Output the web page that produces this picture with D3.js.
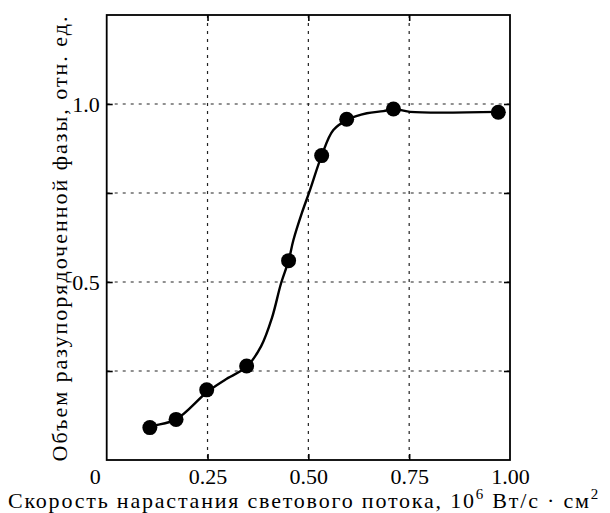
<!DOCTYPE html>
<html>
<head>
<meta charset="utf-8">
<script src="https://cdn.jsdelivr.net/npm/d3@7"></script>
<style>
  body { margin: 0; background: #fff; }
  text { font-family: "Liberation Serif", "Times New Roman", serif; fill: #000; }
</style>
</head>
<body>
<svg id="chart" width="610" height="513"></svg>
<script>
// Measured points: light-flux rise rate vs. volume of the disordered phase
const measuredRate = [0.107, 0.172, 0.248, 0.347, 0.451, 0.533, 0.595, 0.711, 0.971];
const disorderedVolume = [0.091, 0.114, 0.197, 0.264, 0.560, 0.855, 0.957, 0.986, 0.977];

// Hand-drawn fitting curve, sampled along its length
const fitRate = [0.095, 0.107, 0.172, 0.249, 0.293, 0.347, 0.383, 0.410, 0.432, 0.451, 0.463, 0.484, 0.504, 0.533, 0.562, 0.599, 0.645, 0.686, 0.713, 0.752, 0.973];
const fitVolume = [0.080, 0.092, 0.114, 0.191, 0.225, 0.262, 0.320, 0.400, 0.495, 0.560, 0.618, 0.694, 0.758, 0.855, 0.927, 0.957, 0.974, 0.980, 0.986, 0.978, 0.978];

// Grid and tick definitions
const xGridValues = [0.25, 0.5, 0.75];
const yGridValues = [0.25, 0.5, 0.75, 1.0];
const xTickValues = [0, 0.25, 0.5, 0.75, 1.0];
const xTickLabels = ["0", "0.25", "0.50", "0.75", "1.00"];
const yTickValues = [0.5, 1.0];
const yTickLabels = ["0.5", "1.0"];

const xTitle = "Скорость нарастания светового потока, 10";
const xUnit = " Вт/с · см";
const yTitle = "Объем разупорядоченной фазы, отн. ед.";

const svg = d3.select("#chart");
const plotLeft = 106.7, plotRight = 510, plotTop = 15, plotBottom = 460;

const x = d3.scaleLinear().domain([0, 1.0]).range([plotLeft, plotRight]);
const y = d3.scaleLinear().domain([0, 1.25]).range([plotBottom, plotTop]);

// Dashed grid
const grid = svg.append("g").attr("stroke", "#222").attr("stroke-width", 1.2)
  .attr("stroke-dasharray", "3,5");
grid.selectAll("line.vx").data(xGridValues).join("line")
  .attr("x1", d => x(d)).attr("x2", d => x(d))
  .attr("y1", plotTop).attr("y2", plotBottom);
grid.selectAll("line.hy").data(yGridValues).join("line")
  .attr("y1", d => y(d)).attr("y2", d => y(d))
  .attr("x1", plotLeft).attr("x2", plotRight);

// Axes with inward ticks
const tickFont = 22;
const titleFont = 22;
const xAxis = d3.axisBottom(x).tickValues(xTickValues)
  .tickFormat((d, i) => xTickLabels[i]).tickSizeInner(-6).tickSizeOuter(0).tickPadding(8);
const gx = svg.append("g").attr("transform", `translate(0,${plotBottom})`).call(xAxis);
// origin label sits a little left of the corner
gx.selectAll(".tick").filter(d => d === 0).select("text").attr("dx", -12);
gx.selectAll(".tick").filter(d => d === 0 || d === 1).select("line").remove();

const yAxis = d3.axisLeft(y).tickValues(yTickValues)
  .tickFormat((d, i) => yTickLabels[i]).tickSizeInner(-6).tickSizeOuter(0).tickPadding(7);
const gy = svg.append("g").attr("transform", `translate(${plotLeft},0)`).call(yAxis);

const gTop = svg.append("g").attr("transform", `translate(0,${plotTop})`)
  .call(d3.axisTop(x).tickValues(xGridValues).tickSizeInner(-6).tickSizeOuter(0).tickFormat(""));
const gRight = svg.append("g").attr("transform", `translate(${plotRight},0)`)
  .call(d3.axisRight(y).tickValues(yGridValues).tickSizeInner(-6).tickSizeOuter(0).tickFormat(""));
const gLeftMinor = svg.append("g").attr("transform", `translate(${plotLeft},0)`)
  .call(d3.axisLeft(y).tickValues([0.25, 0.75]).tickSizeInner(-6).tickSizeOuter(0).tickFormat(""));

[gx, gy, gTop, gRight, gLeftMinor].forEach(g => {
  g.attr("font-size", tickFont).attr("font-family", null);
  g.select(".domain").remove();
  g.selectAll(".tick line").attr("stroke", "#000").attr("stroke-width", 1.6);
});

// Frame
svg.append("rect")
  .attr("x", plotLeft).attr("y", plotTop)
  .attr("width", plotRight - plotLeft).attr("height", plotBottom - plotTop)
  .attr("fill", "none").attr("stroke", "#000").attr("stroke-width", 1.8);

// Fitted curve
const fitPoints = fitRate.map((r, i) => [r, fitVolume[i]]);
svg.append("path")
  .datum(fitPoints)
  .attr("fill", "none").attr("stroke", "#000").attr("stroke-width", 2.4)
  .attr("stroke-linejoin", "round").attr("stroke-linecap", "round")
  .attr("d", d3.line().x(d => x(d[0])).y(d => y(d[1])).curve(d3.curveCatmullRom.alpha(0.5)));

// Markers
svg.append("g").selectAll("circle")
  .data(measuredRate.map((r, i) => [r, disorderedVolume[i]]))
  .join("circle")
  .attr("cx", d => x(d[0])).attr("cy", d => y(d[1]))
  .attr("r", 7.5).attr("fill", "#000");

// Spread a title's letters so that it spans the given width
function spreadTo(sel, width) {
  const natural = sel.node().getComputedTextLength();
  const n = sel.text().length;
  sel.attr("letter-spacing", Math.max(0, (width - natural) / n));
}

// Axis titles
const xt = svg.append("text")
  .attr("x", 304).attr("y", 508)
  .attr("text-anchor", "middle").attr("font-size", titleFont);
xt.append("tspan").text(xTitle);
xt.append("tspan").attr("dy", -9).attr("font-size", 15).text("6");
xt.append("tspan").attr("dy", 9).text(xUnit);
xt.append("tspan").attr("dy", -9).attr("font-size", 15).text("2");
spreadTo(xt, 592);

const yt = svg.append("text")
  .attr("transform", "translate(67,238) rotate(-90)")
  .attr("text-anchor", "middle").attr("font-size", titleFont)
  .text(yTitle);
spreadTo(yt, 447);
</script>
</body>
</html>
